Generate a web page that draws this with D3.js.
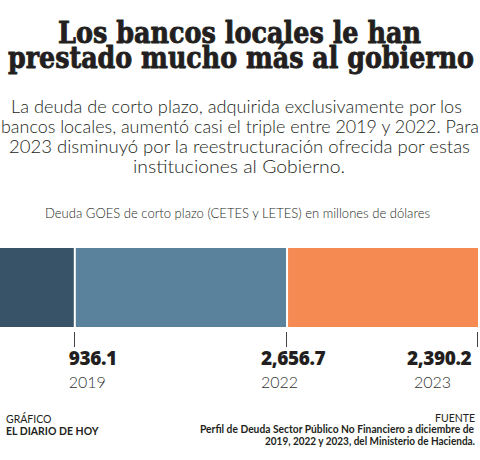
<!DOCTYPE html>
<html><head><meta charset="utf-8">
<script src="https://cdn.jsdelivr.net/npm/d3@7"></script>
<style>body{margin:0;background:#fff}svg{display:block}</style>
</head><body><svg id="c" width="480" height="460"></svg>
<script>
const years = ["2019", "2022", "2023"];
const values = [936.1, 2656.7, 2390.2];
const valueLabels = ["936.1", "2,656.7", "2,390.2"];
const colors = ["#385268", "#5a829c", "#f58a53"];
const titleLines = ["Los bancos locales le han", "prestado mucho más al gobierno"];
const subtitleLines = [
  "La deuda de corto plazo, adquirida exclusivamente por los",
  "bancos locales, aumentó casi el triple entre 2019 y 2022. Para",
  "2023 disminuyó por la reestructuración ofrecida por estas",
  "instituciones al Gobierno."
];
const unitLabel = "Deuda GOES de corto plazo (CETES y LETES) en millones de dólares";
const creditLines = ["GRÁFICO", "EL DIARIO DE HOY"];
const sourceLines = ["FUENTE", "Perfil de Deuda Sector Público No Financiero a diciembre de", "2019, 2022 y 2023, del Ministerio de Hacienda."];

const svg = d3.select("#c");
const ink = "#231f20";

// Title
const titleLayout = [{y: 43, x0: 58, x1: 421}, {y: 68, x0: 8, x1: 474}];
titleLines.forEach((t, i) => {
  const L = titleLayout[i];
  svg.append("text").attr("x", L.x0).attr("y", L.y)
    .attr("textLength", L.x1 - L.x0).attr("lengthAdjust", "spacingAndGlyphs")
    .style("font-family", "'DejaVu Serif', serif").style("font-weight", "bold")
    .style("font-size", "30px").attr("fill", ink)
    .attr("stroke", ink).attr("stroke-width", 0.9).attr("stroke-linejoin", "round")
    .text(t);
});

// Subtitle
const subLayout = [{y:113,x0:11,x1:462},{y:133,x0:1,x1:479},{y:153,x0:9,x1:470},{y:173,x0:133,x1:345}];
subtitleLines.forEach((t, i) => {
  const L = subLayout[i];
  svg.append("text").attr("x", L.x0).attr("y", L.y)
    .attr("textLength", L.x1 - L.x0).attr("lengthAdjust", "spacingAndGlyphs")
    .style("font-family", "Lato, sans-serif").style("font-weight", "300").style("font-size", "17.5px")
    .attr("fill", ink).text(t);
});

svg.append("text").attr("x", 45).attr("y", 218)
  .attr("textLength", 385).attr("lengthAdjust", "spacingAndGlyphs")
  .style("font-family", "Lato, sans-serif").style("font-weight", "300").style("font-size", "13.5px")
  .attr("fill", ink).text(unitLabel);

// Bar
const total = d3.sum(values);
const x = d3.scaleLinear().domain([0, total]).range([0, 478]);
const cum = d3.cumsum(values);
const segs = values.map((v, i) => ({v, i, s: i ? cum[i-1] : 0, e: cum[i]}));
const barTop = 248, barH = 79;

svg.selectAll("rect.seg").data(segs).join("rect").attr("class", "seg")
  .attr("x", d => x(d.s) + (d.i ? 1 : 0))
  .attr("width", d => x(d.e) - x(d.s) - (d.i ? 1 : 0) - (d.i < values.length - 1 ? 1 : 0))
  .attr("y", barTop).attr("height", barH)
  .attr("fill", d => colors[d.i]);

svg.selectAll("line.tick").data(segs).join("line").attr("class", "tick")
  .attr("x1", d => Math.round(x(d.e)) - 0.5).attr("x2", d => Math.round(x(d.e)) - 0.5)
  .attr("y1", 332).attr("y2", 347).attr("stroke", "#444").attr("stroke-width", 1);

const valOff = [-6, -26, -71];
const yearOff = [-6, -26, -64];
svg.selectAll("text.val").data(segs).join("text").attr("class", "val")
  .attr("x", d => x(d.e) + valOff[d.i]).attr("y", 365)
  .style("font-family", "'Open Sans', sans-serif").style("font-weight", "800")
  .style("font-size", "19px").style("letter-spacing", "-0.4px").attr("fill", ink)
  .text(d => valueLabels[d.i]);
svg.selectAll("text.yr").data(segs).join("text").attr("class", "yr")
  .attr("x", d => x(d.e) + yearOff[d.i]).attr("y", 388)
  .style("font-family", "Lato, sans-serif").style("font-weight", "300").style("font-size", "16px")
  .attr("fill", "#333").text(d => years[d.i]);

// Footer
svg.append("text").attr("x", 6).attr("y", 423).style("font-family", "Lato, sans-serif")
  .style("font-size", "10.5px").attr("fill", ink).text(creditLines[0]);
svg.append("text").attr("x", 6).attr("y", 435).style("font-family", "Lato, sans-serif")
  .style("font-weight", "bold").style("font-size", "10.5px").attr("fill", ink).text(creditLines[1]);

svg.append("text").attr("x", 475).attr("y", 422).attr("text-anchor", "end")
  .style("font-family", "Lato, sans-serif").style("font-size", "10.5px").attr("fill", ink).text(sourceLines[0]);
const srcLayout = [{y:433,x0:200,x1:474},{y:445,x0:265,x1:475}];
[1,2].forEach((k, j) => {
  const L = srcLayout[j];
  svg.append("text").attr("x", L.x0).attr("y", L.y)
    .attr("textLength", L.x1 - L.x0).attr("lengthAdjust", "spacingAndGlyphs")
    .style("font-family", "Lato, sans-serif").style("font-weight", "bold")
    .style("font-size", "10.5px").attr("fill", ink).text(sourceLines[k]);
});
</script></body></html>
